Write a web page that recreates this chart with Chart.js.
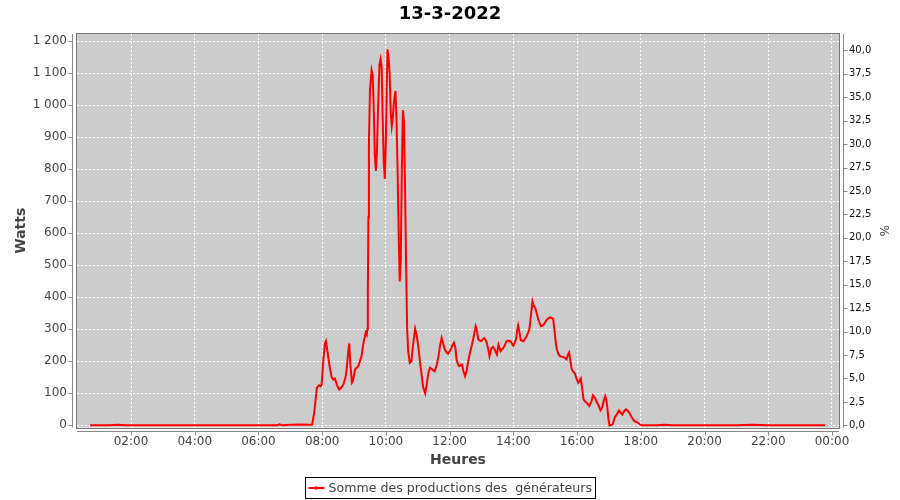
<!DOCTYPE html>
<html>
<head>
<meta charset="utf-8">
<script src="https://cdn.jsdelivr.net/npm/chart.js@4.4.1/dist/chart.umd.min.js"></script>
<style>
  html, body { margin: 0; padding: 0; background: #ffffff; }
  #wrap { width: 900px; height: 500px; }
</style>
</head>
<body>
<div id="wrap"><canvas id="c" width="900" height="500"></canvas></div>
<script>
// ---------- data ----------
const chartTitle = '13-3-2022';
const seriesName = 'Somme des productions des  générateurs';
const leftAxisTitle = 'Watts';
const rightAxisTitle = '%';
const bottomAxisTitle = 'Heures';

const times = [
  '00:43','01:20','01:35','01:50','03:00','04:30','06:00','06:35','06:40','06:45',
  '07:00','07:20','07:35','07:41','07:45','07:50','07:54','07:57','07:59','08:02',
  '08:05','08:07','08:10','08:13','08:15','08:18','08:21','08:24','08:28','08:32',
  '08:36','08:40','08:44','08:46','08:49','08:51','08:53','08:56','08:58','09:02',
  '09:05','09:08','09:11','09:14','09:17','09:19','09:22','09:24','09:25','09:26',
  '09:27','09:28','09:30','09:33','09:35','09:37','09:39','09:41','09:43','09:45',
  '09:48','09:50','09:52','09:54','09:56','09:58','10:00','10:02','10:03','10:05',
  '10:07','10:09','10:11','10:13','10:15','10:18','10:20','10:22','10:24','10:26',
  '10:28','10:30','10:32','10:34','10:36','10:38','10:40','10:42','10:45','10:48',
  '10:51','10:55','10:58','11:01','11:04','11:06','11:10','11:14','11:17','11:20',
  '11:23','11:27','11:32','11:36','11:39','11:42','11:45','11:48','11:51','11:55',
  '11:57','12:02','12:05','12:08','12:11','12:13','12:16','12:18','12:23','12:26',
  '12:29','12:32','12:35','12:38','12:42','12:45','12:49','12:51','12:54','12:59',
  '13:05','13:08','13:10','13:13','13:15','13:19','13:22','13:24','13:29','13:32',
  '13:36','13:41','13:44','13:47','13:50','13:54','14:00','14:05','14:07','14:09',
  '14:12','14:14','14:19','14:25','14:30','14:33','14:36','14:38','14:41','14:44',
  '14:47','14:52','14:56','15:03','15:09','15:15','15:18','15:20','15:22','15:25',
  '15:28','15:33','15:37','15:40','15:43','15:45','15:47','15:50','15:53','15:56',
  '15:59','16:02','16:05','16:07','16:10','16:12','16:15','16:18','16:23','16:27',
  '16:30','16:34','16:37','16:41','16:44','16:47','16:50','16:53','16:55','16:57',
  '16:59','17:01','17:07','17:11','17:15','17:19','17:22','17:25','17:29','17:32',
  '17:36','17:40','17:44','17:48','17:52','17:55','17:59','18:02','18:30','18:45',
  '19:00','20:00','21:00','21:30','22:00','23:00','23:47'
];
const watts = [
  0,0,2,0,0,0,0,0,3,0,
  2,3,2,2,40,118,125,122,128,200,
  255,263,230,195,175,150,143,146,125,112,
  118,128,150,175,230,256,190,134,140,175,
  180,185,200,216,250,268,290,283,300,420,
  650,880,1050,1110,1095,1000,850,795,850,980,
  1130,1145,1120,950,820,770,900,1100,1175,1150,
  1100,980,935,960,1010,1045,950,800,600,450,
  520,800,985,950,750,500,300,230,195,200,
  250,302,280,247,200,175,120,100,130,164,
  180,175,169,190,216,250,273,255,237,226,
  224,237,250,258,240,206,190,185,190,170,
  154,170,200,225,252,275,310,300,268,263,
  273,265,258,235,216,242,245,239,221,252,
  232,242,250,263,265,263,249,268,295,312,
  285,266,263,278,299,341,387,375,368,350,
  330,310,312,330,338,333,289,255,237,222,
  216,214,211,206,222,228,205,175,168,162,
  145,133,140,146,110,81,75,71,60,75,
  94,85,73,60,47,55,75,91,80,55,
  20,0,3,25,35,47,40,34,45,50,
  45,34,22,13,10,8,2,0,0,2,
  0,0,0,2,0,0,0
];

const wattTicks = [0,100,200,300,400,500,600,700,800,900,1000,1100,1200];
const pctTicks = [0,2.5,5,7.5,10,12.5,15,17.5,20,22.5,25,27.5,30,32.5,35,37.5,40];
const hourTicks = ['02:00','04:00','06:00','08:00','10:00','12:00','14:00','16:00','18:00','20:00','22:00','00:00'];

// ---------- helpers ----------
const toMin = s => { const [h, m] = s.split(':').map(Number); return h * 60 + m; };
const tickMin = s => { const v = toMin(s); return v === 0 ? 1440 : v; };
const fmtTime = v => { const t = Math.round(v) % 1440; const h = Math.floor(t / 60), m = t % 60; return String(h).padStart(2,'0') + ':' + String(m).padStart(2,'0'); };
const fmtWatt = v => v >= 1000 ? Math.floor(v / 1000) + ' ' + String(v % 1000).padStart(3, '0') : String(v);
const fmtPct = v => v.toFixed(1).replace('.', ',');

const points = times.map((t, i) => ({ x: toMin(t), y: watts[i] }));

const FONT = 'DejaVu Sans';
const Y_MIN = -6.7, Y_MAX = 1223, PCT_DIV = 29.3;

const framePlugin = {
  id: 'frame',
  beforeDraw(chart) {
    const { ctx, chartArea: a } = chart;
    ctx.save();
    ctx.fillStyle = '#cccccc';
    ctx.fillRect(a.left, a.top, a.right - a.left, a.bottom - a.top);
    ctx.restore();
  },
  afterDraw(chart) {
    const { ctx, chartArea: a } = chart;
    const sx = chart.scales.x, sy = chart.scales.y, sp = chart.scales.yPct;
    ctx.save();
    // plot outline
    ctx.strokeStyle = '#777777';
    ctx.lineWidth = 1;
    ctx.strokeRect(Math.round(a.left) - 0.5, Math.round(a.top) - 0.5, Math.round(a.right - a.left) + 1, Math.round(a.bottom - a.top) + 1);
    // axis lines + tick marks
    ctx.strokeStyle = '#888888';
    ctx.beginPath();
    const lx = Math.round(a.left) - 4.5;
    ctx.moveTo(lx, a.top); ctx.lineTo(lx, a.bottom);
    sy.ticks.forEach(t => { const p = Math.round(sy.getPixelForValue(t.value)) + 0.5; ctx.moveTo(lx - 4, p); ctx.lineTo(lx, p); });
    const rx = Math.round(a.right) + 4.5;
    ctx.moveTo(rx, a.top); ctx.lineTo(rx, a.bottom);
    sp.ticks.forEach(t => { const p = Math.round(sp.getPixelForValue(t.value)) + 0.5; ctx.moveTo(rx, p); ctx.lineTo(rx + 4, p); });
    const by = Math.round(a.bottom) + 3.5;
    ctx.moveTo(a.left, by); ctx.lineTo(a.right, by);
    sx.ticks.forEach(t => { const p = Math.round(sx.getPixelForValue(t.value)) + 0.5; ctx.moveTo(p, by); ctx.lineTo(p, by + 4); });
    ctx.stroke();

    // legend
    ctx.font = '12.6px "' + FONT + '"';
    const tw = ctx.measureText(seriesName).width;
    const bw = 3 + 16 + 4 + tw + 3;
    const bx = Math.round(chart.width / 2 - bw / 2) + 0.5;
    const byy = 477.5, bh = 21;
    ctx.strokeStyle = '#000000';
    ctx.strokeRect(bx, byy, Math.round(bw), bh);
    const cy = byy + bh / 2;
    ctx.strokeStyle = '#ff0000';
    ctx.lineWidth = 2;
    ctx.beginPath(); ctx.moveTo(bx + 3, cy); ctx.lineTo(bx + 19, cy); ctx.stroke();
    ctx.fillStyle = '#ff0000';
    ctx.fillRect(bx + 9.5, cy - 1.5, 3, 3);
    ctx.fillStyle = '#444444';
    ctx.textBaseline = 'middle';
    ctx.textAlign = 'left';
    ctx.fillText(seriesName, bx + 23, cy + 0.5);
    ctx.restore();
  }
};

new Chart(document.getElementById('c'), {
  type: 'line',
  data: {
    datasets: [{
      label: seriesName,
      data: points,
      borderColor: '#ff0000',
      backgroundColor: '#ff0000',
      borderWidth: 2,
      pointRadius: 0,
      tension: 0,
      fill: false
    }]
  },
  options: {
    responsive: false,
    animation: false,
    parsing: true,
    layout: { padding: { left: 0, right: 0, top: 0, bottom: 30 } },
    plugins: {
      legend: { display: false },
      tooltip: { enabled: false },
      title: {
        display: true,
        text: chartTitle,
        color: '#000000',
        font: { family: FONT, size: 18, weight: 'bold' },
        padding: { top: 4, bottom: 8.4 }
      }
    },
    scales: {
      x: {
        type: 'linear',
        position: 'bottom',
        min: 18.3,
        max: 1453.2,
        afterBuildTicks: s => { s.ticks = hourTicks.map(h => ({ value: tickMin(h) })); },
        afterFit: s => { s.height = 42.5; },
        ticks: {
          autoSkip: false, maxRotation: 0, minRotation: 0, padding: 7,
          color: '#444444', font: { family: FONT, size: 12 },
          callback: v => fmtTime(v)
        },
        grid: { color: '#ffffff', lineWidth: 1, drawTicks: false },
        border: { display: false, dash: [2, 2] },
        title: {
          display: true, text: bottomAxisTitle, color: '#444444',
          font: { family: FONT, size: 14, weight: 'bold' },
          padding: { top: 0, bottom: 1.6 }
        }
      },
      y: {
        type: 'linear',
        position: 'left',
        min: Y_MIN,
        max: Y_MAX,
        afterBuildTicks: s => { s.ticks = wattTicks.map(v => ({ value: v })); },
        afterFit: s => { s.width = 77; },
        ticks: {
          padding: 10, color: '#444444', font: { family: FONT, size: 12 },
          callback: v => fmtWatt(v)
        },
        grid: { color: '#ffffff', lineWidth: 1, drawTicks: false },
        border: { display: false, dash: [2, 2] },
        title: {
          display: true, text: leftAxisTitle, color: '#444444',
          font: { family: FONT, size: 14, weight: 'bold' },
          padding: { top: 12.6, bottom: 0 }
        }
      },
      yPct: {
        type: 'linear',
        position: 'right',
        min: Y_MIN / PCT_DIV,
        max: Y_MAX / PCT_DIV,
        afterBuildTicks: s => { s.ticks = pctTicks.map(v => ({ value: v })); },
        afterFit: s => { s.width = 61; },
        ticks: {
          padding: 10, color: '#111111', font: { family: FONT, size: 10 },
          callback: v => fmtPct(v)
        },
        grid: { drawOnChartArea: false, drawTicks: false },
        border: { display: false },
        title: {
          display: true, text: rightAxisTitle, color: '#444444',
          font: { family: FONT, size: 12 },
          padding: { top: 10, bottom: 0 }
        }
      }
    }
  },
  plugins: [framePlugin]
});
</script>
</body>
</html>
